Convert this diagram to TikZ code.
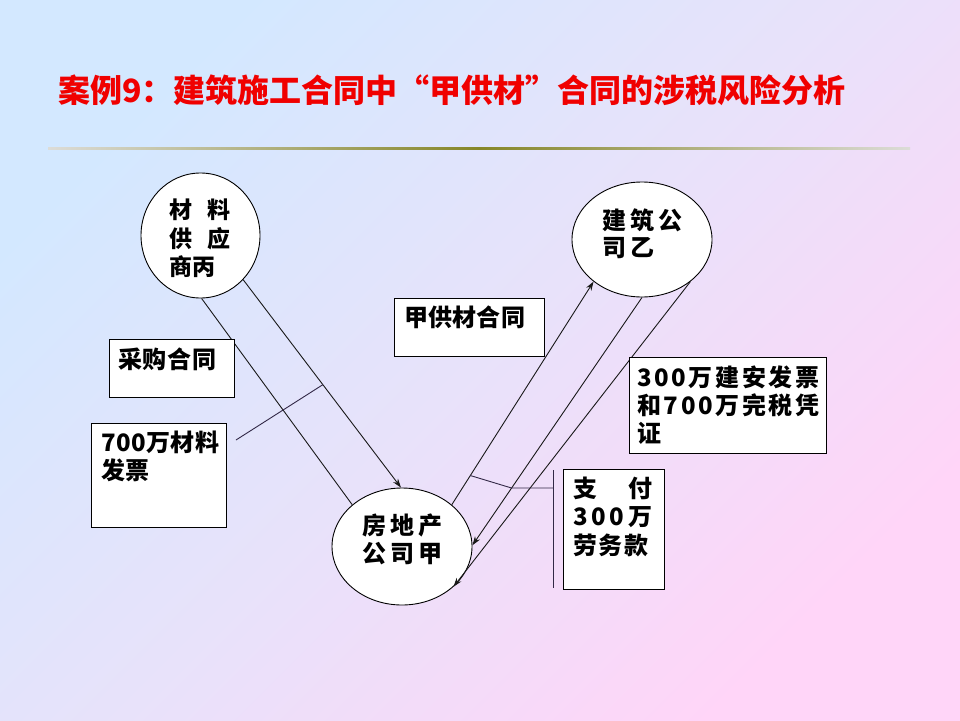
\documentclass[tikz,border=0pt]{standalone}
\usepackage{fontspec}
\newfontfamily\cjk{Noto Sans CJK SC}
\usetikzlibrary{arrows.meta,shapes.geometric,calc}
\definecolor{bgA}{HTML}{D3E8FF}
\definecolor{bgB}{HTML}{FFD5F8}
\definecolor{bgM}{HTML}{E8E2FA}
\definecolor{rulec}{HTML}{868628}
\definecolor{ruleend}{HTML}{DCDCD8}
\definecolor{ttl}{HTML}{F00000}
\definecolor{leadc}{RGB}{50,40,70}
\newcommand\tp{\rule{0pt}{1em}}
\newcommand\cf[3]{\cjk\bfseries\fontsize{#1}{#2}\selectfont\addfontfeature{LetterSpace=#3}}
\tikzset{
  txt/.style={inner sep=0pt, anchor=north west, align=left},
  box/.style={draw=black, fill=white, line width=0.9pt, inner sep=0pt, anchor=north west},
  oval/.style={ellipse, draw=black, fill=white, line width=0.9pt, inner sep=0pt},
  conn/.style={draw=black!90, line width=0.9pt},
  arr/.style={conn, -{Stealth[length=9pt,width=6pt]}},
  lead/.style={draw=leadc, line width=0.9pt}
}
\begin{document}
\begin{tikzpicture}[x=1pt,y=-1pt]
\useasboundingbox (0,0) rectangle (960,720);
\shade[top color=bgA, bottom color=bgB, middle color=bgM, shading angle=45] (0,0) rectangle (960,720);
\shade[left color=ruleend, right color=ruleend, middle color=rulec] (48,147) rectangle (910,149.5);

\node[txt, anchor=base west, text=ttl, font=\cf{32}{36}{0}] (title) at (58,102) {案例9：建筑施工合同中“甲供材”合同的涉税风险分析};

\node[oval, minimum width=119pt, minimum height=125pt] (c1) at (200.5,235.5) {};
\node[oval, minimum width=140pt, minimum height=115pt] (c2) at (642,239.5) {};
\node[oval, minimum width=140pt, minimum height=117pt] (c3) at (402,546.5) {};

\draw[conn] (c1.-89) -- (c3.140);
\draw[arr] (c1.-46) -- (c3.91);
\draw[arr] (c3.40) -- (c2.221);
\draw[arr] (c2.-90) -- (c3.1);
\draw[arr] (c2.-41.5) -- (c3.-38.5);

\coordinate (k1) at (236,440);
\draw[lead] (k1) -- ($(c1.-46)!0.505!(c3.91)$);
\coordinate (v1) at (553,470);
\coordinate (v2) at (553,588);
\coordinate (v3) at (553,488);
\draw[lead] (v1) -- (v2);
\draw[lead] ($(c3.40)!0.131!(c2.221)$) -- ($(c2.-90)!0.769!(c3.1)$) -- (v3);

\node[box, minimum width=125pt, minimum height=58pt] (b1) at (109,339) {};
\node[box, minimum width=135pt, minimum height=104pt] (b2) at (91,423) {};
\node[box, minimum width=150pt, minimum height=58pt] (b3) at (394,298) {};
\node[box, minimum width=197pt, minimum height=96pt] (b4) at (629,357) {};
\node[box, minimum width=101pt, minimum height=120pt] (b5) at (563,469) {};

\node[txt, font=\cf{23}{28.5}{0}] (t1) at (169,195.7) {\tp\hbox to 61pt{材\hfill 料}\\\hbox to 61pt{供\hfill 应}\\商丙};
\node[txt, font=\cf{24}{27}{17}] (t2) at (602,205.1) {\tp 建筑公\\司乙};
\node[txt, font=\cf{24}{28}{17}] (t3) at (362,510.1) {\tp 房地产\\公司甲};
\node[txt, font=\cf{24}{28}{3}] (t4) at (118,344.1) {\tp 采购合同};
\node[txt, font=\cf{24}{28}{2}] (t5) at (101,427.1) {\tp 700万材料\\发票};
\node[txt, font=\cf{24}{28}{1}] (t6) at (404,302.1) {\tp 甲供材合同};
\node[txt, font=\cf{24}{28}{11}] (t7) at (637,362.1) {\tp 300万建安发票\\和700万完税凭\\证};
\node[txt, font=\cf{24}{28.5}{6}] (t8) at (573,473.1) {\tp\hbox to 79pt{支\hfill 付}\\\hbox to 79pt{3\hfill 0\hfill 0\hfill 万}\\劳务款};
\end{tikzpicture}
\end{document}
